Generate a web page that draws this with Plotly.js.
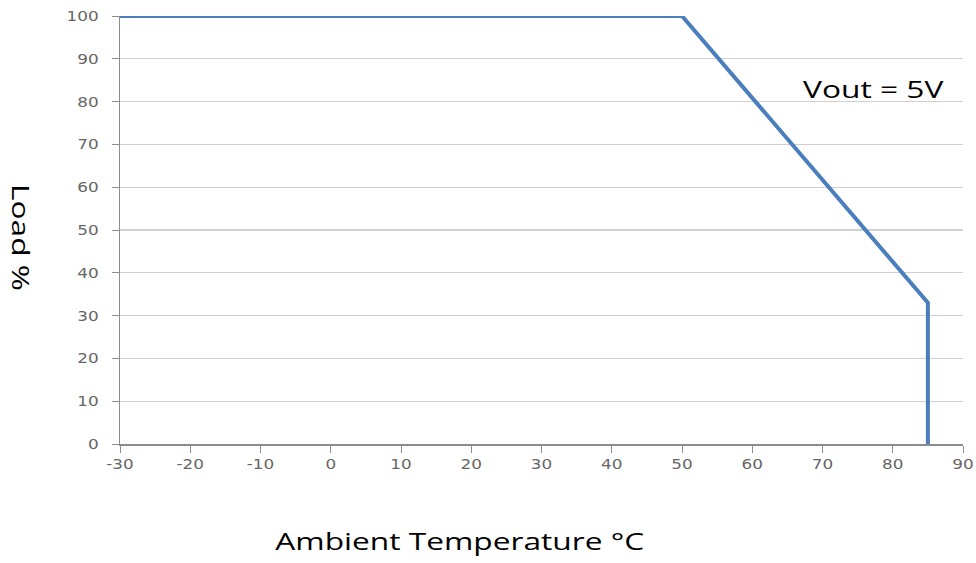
<!DOCTYPE html>
<html>
<head>
<meta charset="utf-8">
<script src="https://cdn.plot.ly/plotly-3.0.1.min.js"></script>
<style>html,body{margin:0;padding:0;background:#fff;}#chart{width:976px;height:563px;}</style>
</head>
<body>
<div id="chart"></div>
<script>
// Derating curve data
const temperature = [-30, 50, 85, 85];
const loadPct = [100, 100, 33, 0];
const xTicks = [-30, -20, -10, 0, 10, 20, 30, 40, 50, 60, 70, 80, 90];
const yTicks = [0, 10, 20, 30, 40, 50, 60, 70, 80, 90, 100];
const seriesLabel = 'Vout = 5V';
const xTitle = 'Ambient Temperature °C';
const yTitle = 'Load %';

const tickFont = {family: 'DejaVu Sans', size: 14, color: '#666666'};
const titleFont = {family: 'Open Sans, Noto Sans, sans-serif', size: 24, color: '#000'};

const trace = {
  x: temperature,
  y: loadPct,
  type: 'scatter',
  mode: 'lines',
  line: {color: '#4a7ebd', width: 4},
  hoverinfo: 'none'
};

const layout = {
  width: 976,
  height: 563,
  margin: {l: 120, r: 13, t: 16, b: 119},
  paper_bgcolor: '#fff',
  plot_bgcolor: '#fff',
  showlegend: false,
  xaxis: {
    range: [-30, 90],
    tickvals: xTicks,
    ticktext: xTicks.map(String),
    showgrid: false,
    zeroline: false,
    showline: true,
    linecolor: '#8c8c8c',
    linewidth: 1.5,
    ticks: 'outside',
    ticklen: 7,
    tickcolor: '#8c8c8c',
    tickfont: tickFont,
    fixedrange: true
  },
  yaxis: {
    range: [0, 100],
    tickvals: yTicks,
    ticktext: yTicks.map(String),
    showgrid: true,
    gridcolor: '#d0d0d0',
    gridwidth: 1.3,
    zeroline: false,
    showline: true,
    linecolor: '#8c8c8c',
    linewidth: 1.5,
    ticks: 'outside',
    ticklen: 7,
    tickcolor: '#8c8c8c',
    ticklabelstandoff: 10,
    tickfont: tickFont,
    fixedrange: true
  },
  annotations: [
    {text: seriesLabel, xref: 'paper', yref: 'paper', x: (873 - 120) / 843, y: (444 - 88) / 428, xanchor: 'center', yanchor: 'middle', showarrow: false, font: titleFont},
    {text: xTitle, xref: 'paper', yref: 'paper', x: (460 - 120) / 843, y: -(540 - 444) / 428, xanchor: 'center', yanchor: 'middle', showarrow: false, font: titleFont},
    {text: yTitle, xref: 'paper', yref: 'paper', x: -(120 - 22) / 843, y: (444 - 237) / 428, xanchor: 'center', yanchor: 'middle', textangle: 90, showarrow: false, font: titleFont}
  ]
};

function stretch(sel, k) {
  document.querySelectorAll(sel).forEach(function (t) {
    const w = t.getComputedTextLength();
    if (w > 0) {
      t.setAttribute('textLength', (w * k).toFixed(1));
      t.setAttribute('lengthAdjust', 'spacingAndGlyphs');
    }
  });
}

Plotly.newPlot('chart', [trace], layout, {displayModeBar: false, staticPlot: true}).then(function () {
  // the reference image is horizontally stretched; mimic it
  stretch('#chart .xtick text, #chart .ytick text', 1.2);
  stretch('#chart .annotation-text', 1.32);
});
</script>
</body>
</html>
